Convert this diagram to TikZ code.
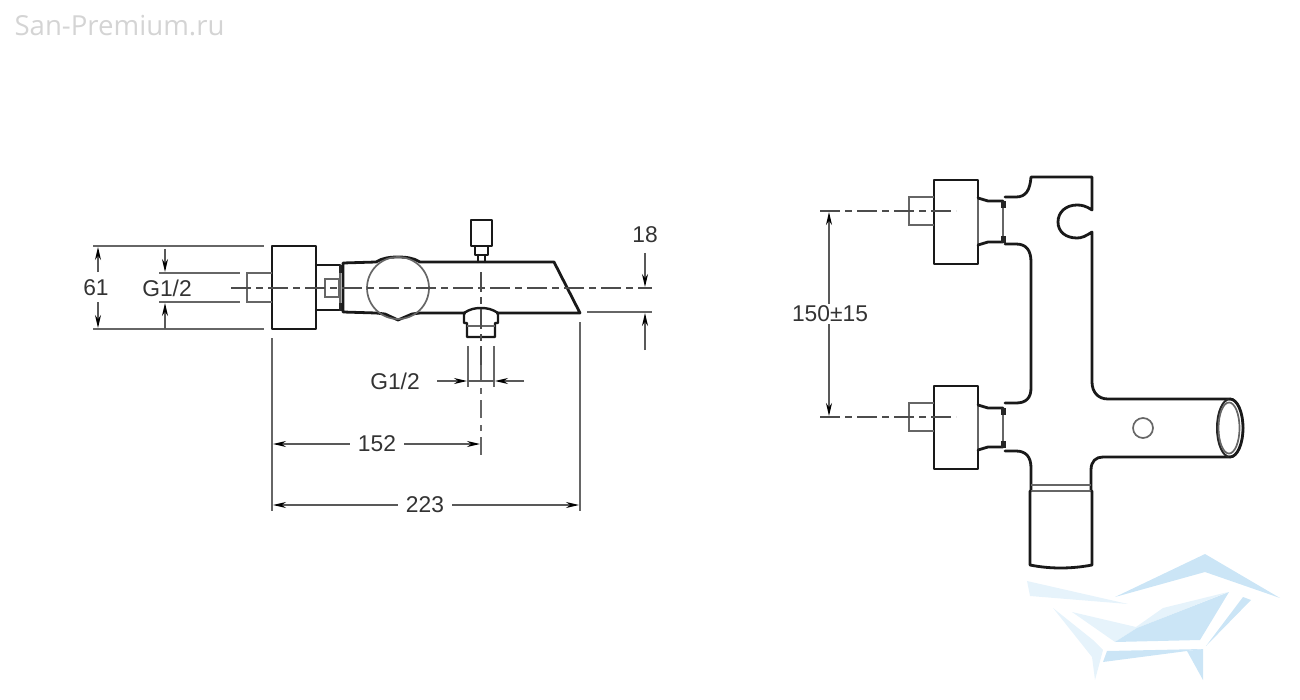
\documentclass[tikz,border=0pt]{standalone}
\usepackage{fontspec}
\setmainfont{Liberation Sans}
\newfontfamily\markfont{Open Sans}
\usetikzlibrary{arrows.meta}
\definecolor{markdark}{HTML}{CBE5F6}
\definecolor{marklight}{HTML}{E6F3FB}
\tikzset{
  outline/.style={black!90,line width=1.4pt,line join=round,line cap=round},
  thinline/.style={black!60,line width=0.85pt},
  dimline/.style={black!65,line width=0.7pt,>={Stealth[length=6.5pt,width=3pt,black]}},
  centerline/.style={black!70,line width=1.1pt,dash pattern=on 10pt off 2.5pt on 3.5pt off 2.5pt},
  label/.style={font=\fontsize{11.4}{13}\selectfont,text=black!80,inner sep=1pt},
  gap/.style={shorten <=3pt},
  block/.style={fill=black!85,draw=none}
}
\begin{document}
\begin{tikzpicture}[x=0.5pt,y=-0.5pt]
  \useasboundingbox (0,0) rectangle (1300,700);
  \node[font=\markfont\fontsize{13.8}{15}\selectfont,text=black!17,inner sep=0] (site) at (119.5,26) {San-Premium.ru};

  % watermark
  \fill[markdark] (1115,597) -- (1205,554) -- (1280,598) -- (1205,572) -- cycle;
  \fill[marklight] (1027,581) -- (1128,604) -- (1030,596) -- cycle;
  \fill[marklight] (1072,612) -- (1136,627) -- (1163,608) -- (1228,592) -- (1137,628) -- (1115,642) -- cycle;
  \fill[markdark] (1115,642) -- (1200,640) -- (1229,592) -- (1137,628) -- cycle;
  \fill[markdark] (1243,597) -- (1251,600) -- (1206,646) -- cycle;
  \fill[marklight] (1053,608) -- (1093,640) -- (1103,650) -- (1095,680) -- (1092,657) -- cycle;
  \fill[markdark] (1107,651) -- (1203,649) -- (1187,651) -- (1103,662) -- cycle;
  \fill[markdark] (1187,651) -- (1203,649) -- (1203,680) -- cycle;

  % front view: cap and neck
  \draw[outline] (272,246) -- (316,246) -- (316,329) -- (272,329) -- cycle;
  \draw[thinline] (272,273) -- (247,273) -- (247,302) -- (272,302);
  \draw[outline,line width=1.2pt] (316,265) -- (340,265) (316,310) -- (340,310);
  \draw[thinline,line width=1.2pt] (340,265) -- (340,310);
  \draw[thinline] (325,279) rectangle (339,297);
  \fill[block] (339,265) rectangle (344,273);
  \fill[block] (339,303) rectangle (344,311);

  % front view: body and spout
  \draw[outline] (343,263) -- (376,262) .. controls (382,258) and (390,257) .. (398,257)
    .. controls (406,257) and (414,258) .. (420,262) -- (554,262) -- (580,313) -- (420,313)
    -- (412,314) -- (398,320) -- (385,314) -- (376,313) -- (343,312) -- cycle;
  \draw[thinline] (398,288) circle [radius=31];
  \fill[white] (466,311) rectangle (496,316);

  % front view: diverter knob
  \draw[outline,line width=1.2pt] (471,220) rectangle (492,246);
  \draw[outline,line width=1.2pt] (475,246) -- (475,255) -- (488,255) -- (488,246);
  \draw[outline,line width=1.2pt] (478,255) -- (478,262) (485,255) -- (485,262);

  % front view: outlet
  \draw[outline,line width=1.2pt] (464,323) -- (464,313) .. controls (470,309) and (475,308) .. (481,308)
    .. controls (487,308) and (492,309) .. (498,313) -- (498,323) -- (495,323) -- (495,337) -- (467,337) -- (467,323) -- cycle;
  \draw[thinline] (467,326) -- (495,326);

  % front view: centre lines
  \draw[centerline] (231,288) -- (652,288);
  \draw[centerline] (481,272) -- (481,365);
  \draw[thinline,line width=1pt] (481,365) -- (481,382);
  \draw[thinline,line width=1pt] (481,388) -- (481,394);
  \draw[thinline,line width=1pt] (481,400) -- (481,418);
  \draw[thinline,line width=1pt] (481,425) -- (481,431);
  \draw[thinline,line width=1pt] (481,437) -- (481,455);

  % front view: extension lines
  \draw[thinline] (93,246) -- (264,246);
  \draw[thinline] (93,329) -- (264,329);
  \draw[thinline] (159,273) -- (240,273);
  \draw[thinline] (159,302) -- (240,302);
  \draw[thinline] (272,338) -- (272,511);
  \draw[thinline] (580,322) -- (580,511);
  \draw[thinline] (587,312) -- (652,312);
  \draw[thinline] (468,346) -- (468,387);
  \draw[thinline] (494,346) -- (494,387);

  % front view: dimensions
  \node[label] (w61) at (96,288) {61};
  \node[label] (g1) at (167,288) {G1/2};
  \node[label] (g2) at (395,381) {G1/2};
  \node[label] (h18) at (645,235) {18};
  \node[label] (d152) at (377,444) {152};
  \node[label] (d223) at (425,505) {223};
  \coordinate (w61a) at (98,272);
  \coordinate (w61b) at (98,302);
  \draw[dimline,->] (w61a) -- (98,247);
  \draw[dimline,->] (w61b) -- (98,328);
  \draw[dimline,->] (165,249) -- (165,272);
  \draw[dimline,->] (165,329) -- (165,303);
  \draw[dimline,->] (645,253) -- (645,287);
  \draw[dimline,->] (645,350) -- (645,313);
  \draw[dimline,->] (437,381) -- (467,381);
  \draw[dimline,->] (524,381) -- (495,381);
  \draw[dimline] (468,381) -- (494,381);
  \draw[dimline,gap,->] (d152.west) -- (273,444);
  \draw[dimline,gap,->] (d152.east) -- (480,444);
  \draw[dimline,gap,->] (d223.west) -- (273,505);
  \draw[dimline,gap,->] (d223.east) -- (579,505);

  % side view: caps
  \foreach \top/\low/\mid/\nt/\nb in {180/264/211/198/245, 386/469/417/405/450} {
    \draw[outline] (934,\top) -- (978,\top) -- (978,\low) -- (934,\low) -- cycle;
    \draw[thinline] (934,\mid-14) -- (909,\mid-14) -- (909,\mid+14) -- (934,\mid+14);
    \draw[thinline,line width=1.2pt] (978,\nt) -- (978,\nb);
    \draw[outline] (978,\nt) -- (988,\nt+3) -- (1003,\nt+3);
    \draw[outline] (978,\nb) -- (988,\nb-3) -- (1003,\nb-3);
    \draw[thinline,line width=1.3pt] (1003,\nt+3) -- (1003,\nb-3);
    \fill[block] (1001,\nt+3) rectangle (1006,\nt+10);
    \fill[block] (1001,\nb-9) rectangle (1006,\nb-2);
    \draw[centerline] (820,\mid) -- (956,\mid);
  }

  % side view: body
  \draw[outline] (1005,197) -- (1016,197) .. controls (1026,197) and (1030,190) .. (1031,177)
    -- (1092,177) -- (1092,210) .. controls (1086,206) and (1082,205) .. (1077,205)
    .. controls (1066,205) and (1058,212) .. (1058,222) .. controls (1058,232) and (1066,238) .. (1077,238)
    .. controls (1082,238) and (1086,236) .. (1092,232) -- (1092,382)
    .. controls (1092,392) and (1098,399) .. (1108,399) -- (1230,399);
  \draw[outline] (1005,244) -- (1016,244) .. controls (1026,244) and (1031,250) .. (1031,262)
    -- (1031,388) .. controls (1031,398) and (1026,403) .. (1016,403) -- (1005,403);
  \draw[outline] (1005,451) -- (1016,451) .. controls (1026,451) and (1031,457) .. (1031,468) -- (1031,491);
  \draw[outline] (1230,457) -- (1103,457) .. controls (1096,457) and (1091,461) .. (1091,470) -- (1091,491);
  \draw[thinline,black!85,line width=1pt] (1230,428) ellipse [x radius=13,y radius=29];
  \draw[outline] (1230,399) arc [start angle=-90,end angle=90,x radius=13,y radius=29];
  \draw[thinline] (1229,428) ellipse [x radius=10.5,y radius=25.5];
  \draw[thinline] (1143,428) circle [radius=10];

  % side view: lower part
  \draw[thinline] (1031,485) -- (1091,485);
  \draw[thinline] (1031,491) -- (1091,491);
  \draw[outline] (1030,491) -- (1030,565) .. controls (1050,569) and (1071,569) .. (1092,565) -- (1092,491);

  % side view: dimension
  \node[label] (d150) at (830,314) {150±15};
  \draw[dimline,->] (d150.north -| 829,0) -- (829,212);
  \draw[dimline,->] (d150.south -| 829,0) -- (829,416);
\end{tikzpicture}
\end{document}
